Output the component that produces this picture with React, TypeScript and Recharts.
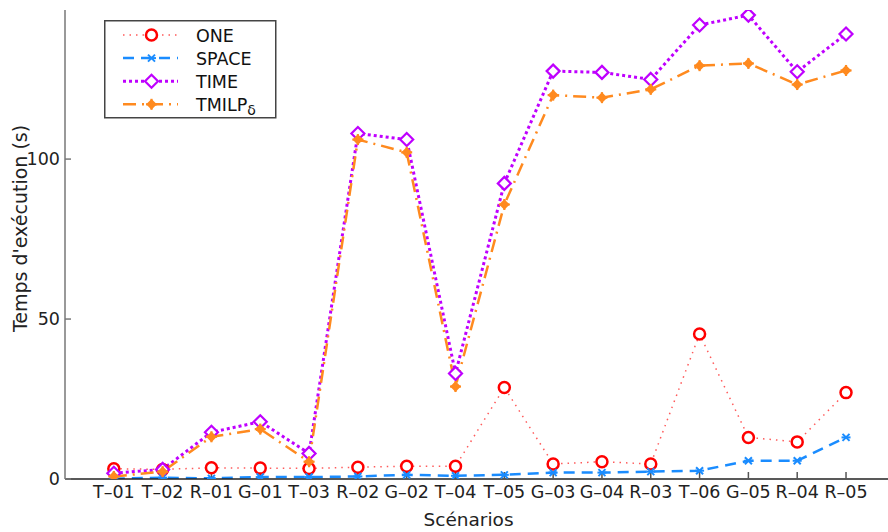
import { LineChart, Line, XAxis, YAxis, Legend, Label } from 'recharts';

const scenarios = ['T–01', 'T–02', 'R–01', 'G–01', 'T–03', 'R–02', 'G–02', 'T–04', 'T–05', 'G–03', 'G–04', 'R–03', 'T–06', 'G–05', 'R–04', 'R–05'];
const oneValues = [3.2, 3.0, 3.5, 3.4, 3.3, 3.7, 4.0, 4.0, 28.6, 4.7, 5.4, 4.7, 45.3, 13.0, 11.6, 27.0];
const spaceValues = [0.1, 0.4, 0.2, 0.6, 0.6, 0.8, 1.3, 1.0, 1.3, 2.0, 2.0, 2.3, 2.6, 5.7, 5.7, 13.0];
const timeValues = [1.8, 3.0, 14.6, 17.9, 8.0, 108.0, 106.1, 33.0, 92.4, 127.5, 127.1, 124.9, 141.9, 145.0, 127.3, 139.1];
const tmilpValues = [0.8, 2.3, 13.2, 15.6, 5.4, 106.1, 102.1, 28.9, 85.8, 120.0, 119.2, 121.8, 129.2, 129.9, 123.3, 127.7];
const yTicks = [0, 50, 100];
const xTicks = scenarios.map((_, i) => i + 1);

const rows = scenarios.map((name, i) => ({
  x: i + 1,
  name,
  one: oneValues[i],
  space: spaceValues[i],
  time: timeValues[i],
  tmilp: tmilpValues[i],
}));

const RED = '#ff0000';
const BLUE = '#1a8cff';
const PURPLE = '#bf00ff';
const ORANGE = '#ff8a1f';
const FONT = '"DejaVu Sans", sans-serif';

// ── markers ──
function CircleMark({ cx, cy }: { cx: number; cy: number }) {
  return <circle cx={cx} cy={cy} r={5.5} fill="#fff" stroke={RED} strokeWidth={2.5} />;
}

function StarMark({ cx, cy }: { cx: number; cy: number }) {
  const s = 3.5;
  return (
    <g stroke={BLUE} strokeWidth={2}>
      <line x1={cx - s} y1={cy - s} x2={cx + s} y2={cy + s} />
      <line x1={cx - s} y1={cy + s} x2={cx + s} y2={cy - s} />
      <line x1={cx - s - 1} y1={cy} x2={cx + s + 1} y2={cy} />
    </g>
  );
}

function DiamondMark({ cx, cy }: { cx: number; cy: number }) {
  const s = 6.5;
  return (
    <polygon
      points={`${cx},${cy - s} ${cx + s},${cy} ${cx},${cy + s} ${cx - s},${cy}`}
      fill="#fff"
      stroke={PURPLE}
      strokeWidth={2.2}
    />
  );
}

function PlusMark({ cx, cy }: { cx: number; cy: number }) {
  const s = 3.8;
  return (
    <g fill={ORANGE} stroke={ORANGE} strokeWidth={2.2}>
      <polygon points={`${cx},${cy - s} ${cx + s},${cy} ${cx},${cy + s} ${cx - s},${cy}`} />
      <line x1={cx - 5.5} y1={cy} x2={cx + 5.5} y2={cy} />
      <line x1={cx} y1={cy - 5.5} x2={cx} y2={cy + 5.5} />
    </g>
  );
}

const series = [
  { key: 'one', name: 'ONE', color: '#ff5a5a', width: 1.5, dash: '1.5 5', Mark: CircleMark },
  { key: 'space', name: 'SPACE', color: BLUE, width: 2.5, dash: '11 7', Mark: StarMark },
  { key: 'time', name: 'TIME', color: PURPLE, width: 3, dash: '3 3', Mark: DiamondMark },
  { key: 'tmilp', name: 'TMILP', color: ORANGE, width: 2.5, dash: '13 6 2 6', Mark: PlusMark },
];

// ── legend box (top-left, inside the plot) ──
function LegendBox() {
  return (
    <svg width={174} height={100} style={{ display: 'block', fontFamily: FONT }}>
      <rect x={0.75} y={0.75} width={171} height={97} fill="#fff" stroke="#444" strokeWidth={1.5} />
      {series.map((s, i) => {
        const y = 15 + i * 23.1;
        const Mark = s.Mark;
        return (
          <g key={s.key}>
            <line x1={19} y1={y} x2={74} y2={y} stroke={s.color} strokeWidth={s.width} strokeDasharray={s.dash} />
            <Mark cx={47.5} cy={y} />
            <text x={92} y={y + 6.5} fontSize={17.5} fill="#111">
              {s.name}
              {s.key === 'tmilp' && (
                <tspan dy={4} fontSize={14}>
                  δ
                </tspan>
              )}
            </text>
          </g>
        );
      })}
    </svg>
  );
}

export default function App() {
  return (
    <div style={{ position: 'absolute', left: 0, top: 0, width: 888, height: 532, background: '#fff', fontFamily: FONT }}>
      <LineChart width={888} height={532} data={rows} margin={{ top: 10, right: 0, bottom: 0, left: 0 }}>
        <XAxis
          dataKey="x"
          type="number"
          domain={[0, 16.86]}
          ticks={xTicks}
          interval={0}
          allowDataOverflow
          tickFormatter={(v: number) => scenarios[v - 1]}
          height={53}
          tickSize={-7}
          tickMargin={14}
          axisLine={{ stroke: '#222', strokeWidth: 1.5 }}
          tickLine={{ stroke: '#555', strokeWidth: 1.5 }}
          tick={{ fill: '#222', fontSize: 17.5, fontFamily: FONT }}
        >
          <Label
            content={({ viewBox }: any) => (
              <text
                x={viewBox.x + viewBox.width / 2 - 8}
                y={viewBox.y + viewBox.height - 6.5}
                textAnchor="middle"
                fontSize={18.5}
                fill="#222"
                fontFamily={FONT}
              >
                Scénarios
              </text>
            )}
          />
        </XAxis>
        <YAxis
          type="number"
          domain={[0, 146.6]}
          ticks={yTicks}
          allowDataOverflow
          width={65}
          tickSize={-6}
          tickMargin={11}
          axisLine={{ stroke: '#777', strokeWidth: 1.5 }}
          tickLine={{ stroke: '#777', strokeWidth: 1.5 }}
          tick={{ fill: '#222', fontSize: 17.5, fontFamily: FONT }}
        >
          <Label
            content={({ viewBox }: any) => {
              const cx = 27;
              const cy = viewBox.y + viewBox.height / 2 - 16;
              return (
                <text
                  x={cx}
                  y={cy}
                  transform={`rotate(-90 ${cx} ${cy})`}
                  textAnchor="middle"
                  fontSize={19}
                  fill="#222"
                  fontFamily={FONT}
                >
                  Temps d'exécution (s)
                </text>
              );
            }}
          />
        </YAxis>
        <Legend
          layout="vertical"
          align="center"
          verticalAlign="middle"
          content={() => <LegendBox />}
          wrapperStyle={{ position: 'absolute', left: 104, top: 20, width: 174, height: 100 }}
        />
        {series.map((s) => {
          const Mark = s.Mark;
          return (
            <Line
              key={s.key}
              dataKey={s.key}
              name={s.name}
              type="linear"
              stroke={s.color}
              strokeWidth={s.width}
              strokeDasharray={s.dash}
              isAnimationActive={false}
              dot={(p: any) => <Mark key={`${s.key}-${p.index}`} cx={p.cx} cy={p.cy} />}
              activeDot={false}
            />
          );
        })}
      </LineChart>
    </div>
  );
}
